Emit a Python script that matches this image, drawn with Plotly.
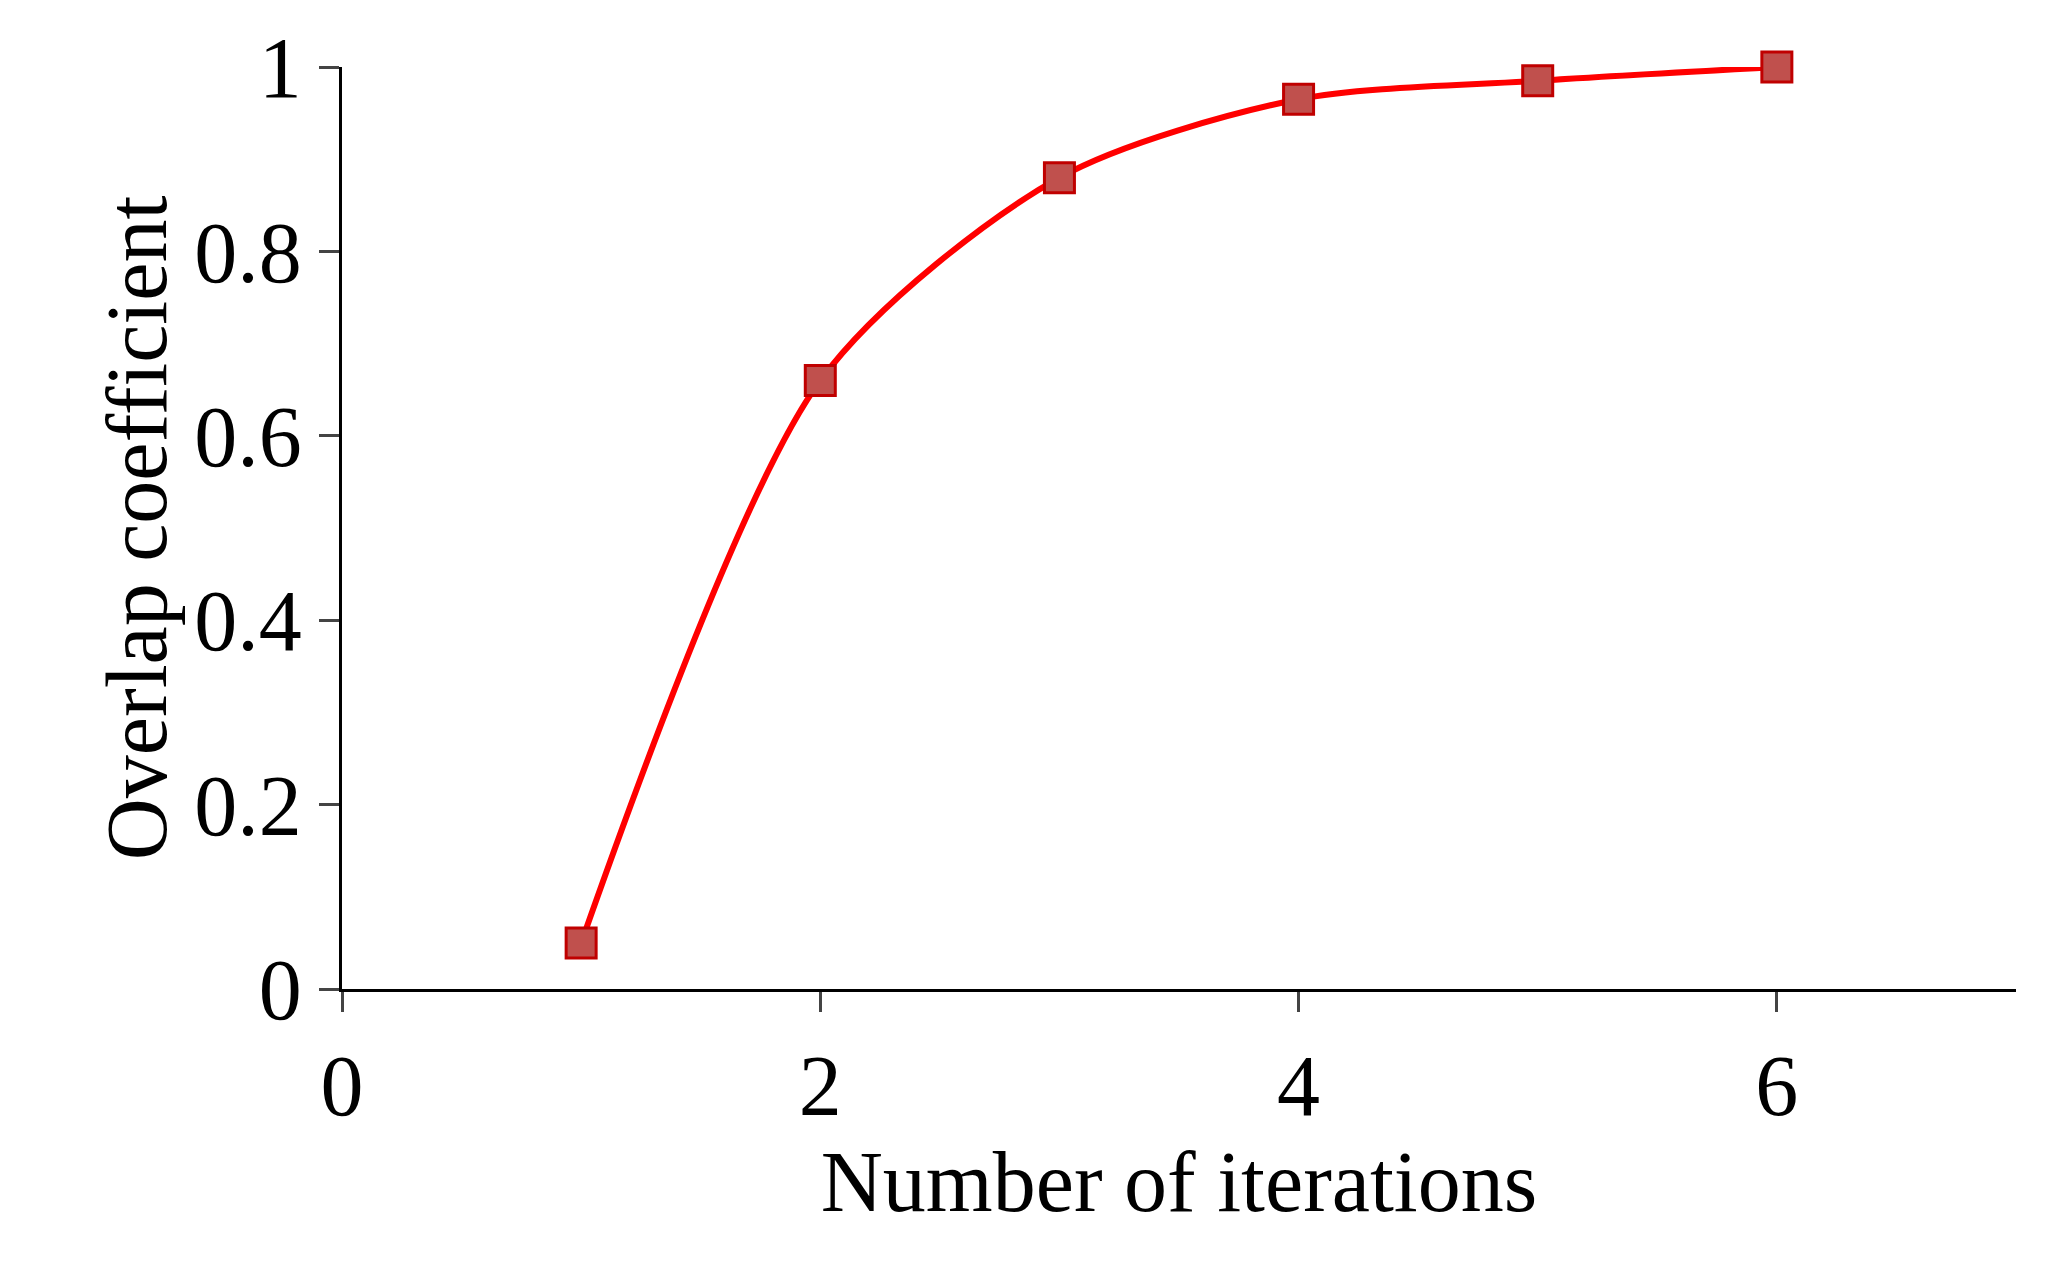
import plotly.graph_objects as go

iterations = [1, 2, 3, 4, 5, 6]
overlap = [0.05, 0.66, 0.88, 0.965, 0.985, 1.0]
x_ticks = [0, 2, 4, 6]
y_ticks = [0, 0.2, 0.4, 0.6, 0.8, 1]
y_labels = ["0", "0.2", "0.4", "0.6", "0.8", "1"]

fig = go.Figure(go.Scatter(
    x=iterations, y=overlap, mode="lines+markers", cliponaxis=False,
    line=dict(color="#FF0000", width=6, shape="spline", smoothing=0.8),
    marker=dict(symbol="square", size=30, color="#C0504D",
                line=dict(color="#C00000", width=3)),
))
font = dict(family="Liberation Serif, Times New Roman, serif", size=86, color="black")
fig.update_layout(
    width=2049, height=1268, plot_bgcolor="white", paper_bgcolor="white",
    margin=dict(l=334, r=41, t=54, b=287), showlegend=False, font=font,
)
fig.update_xaxes(range=[0, 7], tickvals=x_ticks, showline=True, linecolor="black",
                 linewidth=3, ticks="outside", ticklen=20, tickwidth=3,
                 showgrid=False, zeroline=False,
                 title=dict(text="Number of iterations", font=font, standoff=0))
fig.update_yaxes(range=[0, 1], tickvals=y_ticks, ticktext=y_labels, showline=True,
                 linecolor="black", linewidth=3, ticks="outside", ticklen=20,
                 tickwidth=3, showgrid=False, zeroline=False,
                 title=dict(text="Overlap coefficient", font=font, standoff=0))
fig.write_html("out.html")
